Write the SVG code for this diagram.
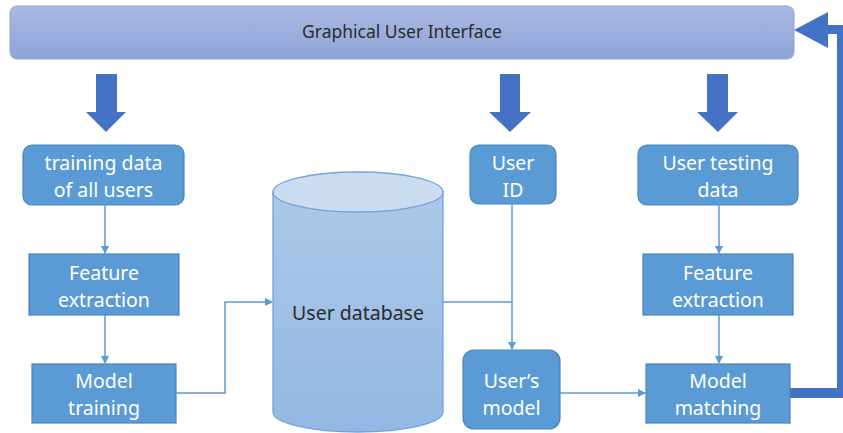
<svg xmlns="http://www.w3.org/2000/svg" width="843" height="433" viewBox="0 0 843 433">
  <defs>
    <linearGradient id="guiFill" x1="0" y1="0" x2="0" y2="1">
      <stop offset="0" stop-color="#abb9e2"/>
      <stop offset="1" stop-color="#8ea4d8"/>
    </linearGradient>
    <linearGradient id="dbFill" x1="0" y1="0" x2="0" y2="1">
      <stop offset="0" stop-color="#adc8e8"/>
      <stop offset="1" stop-color="#93b8e2"/>
    </linearGradient>
    <marker id="tip" viewBox="0 0 8 8" refX="7" refY="4" markerWidth="8" markerHeight="8" markerUnits="userSpaceOnUse" orient="auto">
      <path d="M0,0 L8,4 L0,8 Z" fill="#5b9bd5"/>
    </marker>
  </defs>
  <style>
    .box { fill: #5b9bd5; stroke: #4a84bf; stroke-width: 1.2; }
    .lbl { font-family: "Noto Sans", "Open Sans", sans-serif; font-size: 19.5px; fill: #ffffff; text-anchor: middle; }
    .dark { font-family: "Noto Sans", "Open Sans", sans-serif; fill: #2b2b2b; text-anchor: middle; }
    .link { fill: none; stroke: #5b9bd5; stroke-width: 1.5; }
    .block { fill: #4472c4; }
  </style>

  <rect width="843" height="433" fill="#ffffff"/>

  <!-- top bar -->
  <g id="gui">
    <rect x="10" y="6" width="784" height="53" rx="7" fill="url(#guiFill)" stroke="#8fa5d6" stroke-width="1"/>
    <text class="dark" x="402" y="38" font-size="17.5">Graphical User Interface</text>
  </g>

  <!-- wide arrows from the top bar down to the inputs -->
  <g id="input-arrows">
    <polygon class="block" points="96,74 117,74 117,112 126,112 106,132 86,112 96,112"/>
    <polygon class="block" points="500,74 520,74 520,112 531,112 510,132 489,112 500,112"/>
    <polygon class="block" points="707,74 728,74 728,112 738,112 718,132 697,112 707,112"/>
  </g>

  <!-- result fed back to the top bar -->
  <g id="feedback">
    <rect x="790" y="388" width="53" height="10" fill="#4472c4"/>
    <rect x="837" y="25" width="6" height="373" fill="#4472c4"/>
    <polygon class="block" points="794,30 828,12 828,25 843,25 843,34 828,34 828,48"/>
  </g>

  <g id="training-data">
    <rect class="box" x="23" y="145" width="161" height="60" rx="9"/>
    <text class="lbl" x="103.5" y="169.5">training data</text>
    <text class="lbl" x="103.5" y="196.5">of all users</text>
  </g>

  <g id="feature-extraction-1">
    <rect class="box" x="29" y="254" width="150" height="61"/>
    <text class="lbl" x="104" y="279.5">Feature</text>
    <text class="lbl" x="104" y="306.5">extraction</text>
  </g>

  <g id="model-training">
    <rect class="box" x="32" y="364" width="144" height="59"/>
    <text class="lbl" x="104" y="387.5">Model</text>
    <text class="lbl" x="104" y="414.5">training</text>
  </g>

  <g id="user-database">
    <path d="M273,192 L273,412 A85,20 0 0 0 443,412 L443,192 Z" fill="url(#dbFill)" stroke="#6fa5db" stroke-width="1.3"/>
    <ellipse cx="358" cy="192" rx="85" ry="20" fill="#cbdcf0" stroke="#6fa5db" stroke-width="1.3"/>
    <text class="dark" x="358" y="320" font-size="19.5">User database</text>
  </g>

  <g id="user-id">
    <rect class="box" x="470" y="145" width="86" height="59" rx="9"/>
    <text class="lbl" x="513" y="169.5">User</text>
    <text class="lbl" x="513" y="196.5">ID</text>
  </g>

  <g id="users-model">
    <rect class="box" x="463" y="350" width="97" height="79" rx="11"/>
    <text class="lbl" x="511.5" y="387.5">User’s</text>
    <text class="lbl" x="511.5" y="414.5">model</text>
  </g>

  <g id="user-testing-data">
    <rect class="box" x="638" y="145" width="160" height="60" rx="9"/>
    <text class="lbl" x="718" y="169.5">User testing</text>
    <text class="lbl" x="718" y="196.5">data</text>
  </g>

  <g id="feature-extraction-2">
    <rect class="box" x="643" y="254" width="150" height="61"/>
    <text class="lbl" x="718" y="279.5">Feature</text>
    <text class="lbl" x="718" y="306.5">extraction</text>
  </g>

  <g id="model-matching">
    <rect class="box" x="646" y="364" width="144" height="59"/>
    <text class="lbl" x="718" y="387.5">Model</text>
    <text class="lbl" x="718" y="414.5">matching</text>
  </g>

  <g id="connectors">
    <path class="link" d="M105,205 L105,253" marker-end="url(#tip)"/>
    <path class="link" d="M105,315 L105,363" marker-end="url(#tip)"/>
    <path class="link" d="M176,393 L225,393 L225,302 L272,302" marker-end="url(#tip)"/>
    <path class="link" d="M443,302 L512,302"/>
    <path class="link" d="M512,204 L512,349" marker-end="url(#tip)"/>
    <path class="link" d="M560,393 L645,393" marker-end="url(#tip)"/>
    <path class="link" d="M719,205 L719,253" marker-end="url(#tip)"/>
    <path class="link" d="M719,315 L719,363" marker-end="url(#tip)"/>
  </g>
</svg>
